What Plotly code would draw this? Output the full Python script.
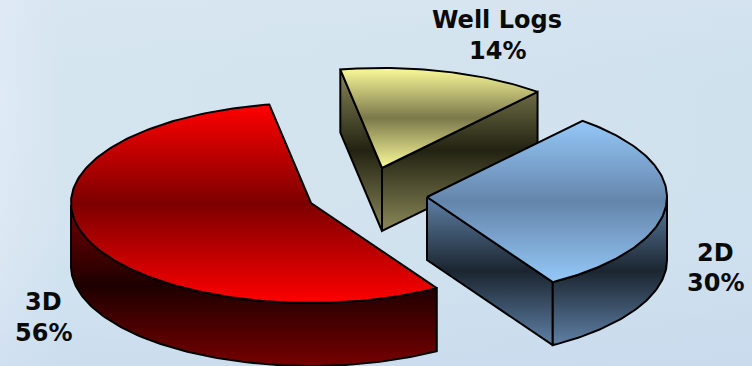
import numpy as np
import plotly.graph_objects as go

# Survey share by data type
categories = ["3D", "2D", "Well Logs"]
shares = [56, 30, 14]

WIDTH, HEIGHT = 752, 366
RX, RY = 240, 100          # ellipse radii of the tilted pie
DEPTH = 63                 # thickness of each slice
FIRST_ANGLE = 100.0        # where the first slice begins, degrees

# Apex of every exploded slice on the canvas
apex = {"3D": (311, 203), "2D": (427, 197), "Well Logs": (382, 168)}

# Colour stops: top face edge, top face centre, side face edge, side face centre
palette = {
    "3D": ("#ff0000", "#7c0000", "#760000", "#1e0000"),
    "2D": ("#95c8f8", "#6485ab", "#5f81a6", "#1b2530"),
    "Well Logs": ("#fbfb9a", "#7b784a", "#8b8958", "#222212"),
}

# Label anchors, one pair of line centres per slice
label_pos = {
    "3D": (43, 302, 333),
    "2D": (715, 253, 283),
    "Well Logs": (497, 20, 51),
}

LABEL_FONT = dict(family="DejaVu Sans", size=24, color="#0a0a0a", weight="bold")


def band(edge, centre):
    return [[0, edge], [0.5, centre], [1, edge]]


def ellipse(cx, cy, t):
    r = np.radians(t)
    return cx + RX * np.cos(r), cy - RY * np.sin(r)


def polygon(xs, ys, colors, y0, y1):
    return go.Scatter(
        x=list(xs) + [xs[0]],
        y=list(ys) + [ys[0]],
        mode="lines",
        line=dict(color="black", width=2),
        fill="toself",
        fillgradient=dict(type="vertical", colorscale=colors, start=y0, stop=y1),
        hoverinfo="skip",
        showlegend=False,
    )


def slice_traces(name, t1, t2):
    cx, cy = apex[name]
    top_edge, top_mid, side_edge, side_mid = palette[name]
    arc = np.r_[t1, np.arange(np.ceil(t1), np.floor(t2) + 1), t2]
    faces = []

    # Straight cut faces that look towards the viewer
    for t, visible in ((t2, np.cos(np.radians(t2)) < 0), (t1, np.cos(np.radians(t1)) > 0)):
        if visible:
            ex, ey = ellipse(cx, cy, t)
            faces.append(([cx, ex, ex, cx], [cy, ey, ey + DEPTH, cy + DEPTH]))

    # Curved rim along the front half of the ellipse
    front = arc[np.sin(np.radians(arc)) <= 0]
    if front.size:
        ex, ey = ellipse(cx, cy, front)
        faces.append((np.r_[ex, ex[::-1]], np.r_[ey, ey[::-1] + DEPTH]))

    # Shade the side faces over their shared vertical extent
    side_y = np.concatenate([np.asarray(ys, dtype=float) for _, ys in faces])
    traces = [polygon(xs, ys, band(side_edge, side_mid), side_y.min(), side_y.max())
              for xs, ys in faces]

    # Top face
    ex, ey = ellipse(cx, cy, arc)
    top_x, top_y = np.r_[cx, ex], np.r_[cy, ey]
    traces.append(polygon(top_x, top_y, band(top_edge, top_mid), top_y.min(), top_y.max()))
    return traces


# Sweep of every slice, going counter-clockwise from the first angle
spans = {}
angle = FIRST_ANGLE
for name, share in zip(categories, shares):
    spans[name] = (angle, angle + share * 3.6)
    angle += share * 3.6

fig = go.Figure()

# Pale blue backdrop, brighter towards the left edge
fig.add_trace(go.Scatter(
    x=[0, WIDTH, WIDTH, 0, 0], y=[0, 0, HEIGHT, HEIGHT, 0], mode="lines",
    line=dict(width=0), fill="toself", hoverinfo="skip", showlegend=False,
    fillgradient=dict(type="horizontal", start=0, stop=WIDTH, colorscale=[
        [0, "#dfeaf5"], [0.08, "#d5e5f0"], [0.5, "#d3e4ef"], [1, "#d0e1ee"]]),
))
fig.add_trace(go.Scatter(
    x=[0, WIDTH, WIDTH, 0, 0], y=[0, 0, HEIGHT, HEIGHT, 0], mode="lines",
    line=dict(width=0), fill="toself", hoverinfo="skip", showlegend=False,
    fillgradient=dict(type="vertical", start=0, stop=HEIGHT, colorscale=[
        [0, "rgba(225,232,244,0.25)"], [0.25, "rgba(210,228,240,0)"],
        [0.6, "rgba(200,218,236,0.1)"], [1, "rgba(192,212,236,0.45)"]]),
))

# Paint back to front so the nearer slices overlap the rear one
for name in ["Well Logs", "3D", "2D"]:
    fig.add_traces(slice_traces(name, *spans[name]))

for name, share in zip(categories, shares):
    x, y_name, y_value = label_pos[name]
    for y, text in ((y_name, name), (y_value, f"{share}%")):
        fig.add_annotation(x=x, y=y, text=text, showarrow=False,
                           xanchor="center", yanchor="middle", font=LABEL_FONT)

fig.update_layout(
    width=WIDTH, height=HEIGHT,
    margin=dict(l=0, r=0, t=0, b=0),
    paper_bgcolor="#d3e4ef",
    plot_bgcolor="#d3e4ef",
    xaxis=dict(range=[0, WIDTH], visible=False, fixedrange=True),
    yaxis=dict(range=[HEIGHT, 0], visible=False, fixedrange=True),
)

fig.write_html("out.html", config={"displayModeBar": False})
